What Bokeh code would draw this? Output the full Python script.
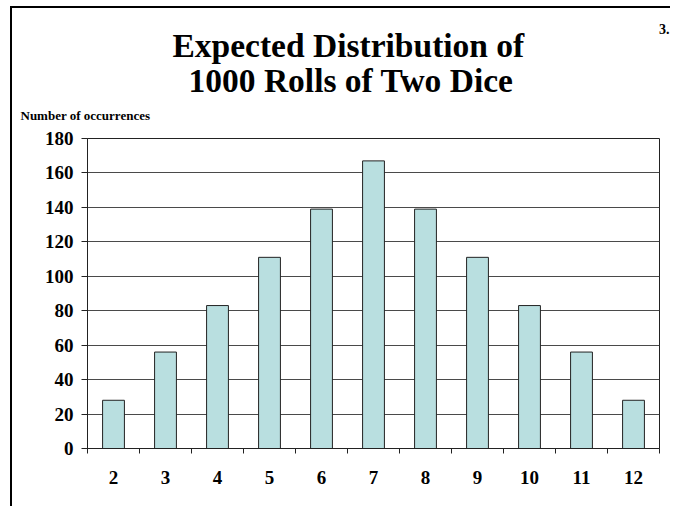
from bokeh.plotting import figure
from bokeh.models import Range1d, FixedTicker, Title, ColumnDataSource
from bokeh.embed import file_html
from bokeh.resources import INLINE

# Data
sums = [2, 3, 4, 5, 6, 7, 8, 9, 10, 11, 12]
occurrences = [28, 56, 83, 111, 139, 167, 139, 111, 83, 56, 28]
y_ticks = [0, 20, 40, 60, 80, 100, 120, 140, 160, 180]
title_lines = ["Expected Distribution of", "1000 Rolls of Two Dice"]
y_axis_title = "Number of occurrences"
slide_number = "3."

FONT = "Liberation Serif"

p = figure(width=660, height=500, output_backend="svg", toolbar_location=None,
           x_range=Range1d(sums[0] - 0.5, sums[-1] + 0.5),
           y_range=Range1d(0, 180),
           min_border_left=75, min_border_right=13,
           min_border_top=130, min_border_bottom=60)

p.styles = {"margin-left": "10px", "margin-top": "6px",
            "border-left": "2px solid black", "border-top": "2px solid black"}

src = ColumnDataSource(dict(x=sums, top=occurrences))
p.vbar(x="x", top="top", width=0.42, bottom=0, source=src,
       fill_color="#B9DFE0", line_color="#222222", line_width=1)

# Axes
p.outline_line_color = "#222222"
p.outline_line_width = 1

p.yaxis.ticker = FixedTicker(ticks=y_ticks)
p.yaxis.major_label_text_font = FONT
p.yaxis.major_label_text_font_style = "bold"
p.yaxis.major_label_text_font_size = "19px"
p.yaxis.major_label_text_color = "black"
p.yaxis.major_tick_out = 6
p.yaxis.major_tick_in = 0
p.yaxis.minor_tick_out = 0
p.yaxis.minor_tick_in = 0
p.yaxis.major_label_standoff = 8
p.yaxis.axis_line_color = "#222222"
p.yaxis.major_tick_line_color = "#222222"

boundaries = [s - 0.5 for s in sums] + [sums[-1] + 0.5]
p.xaxis.ticker = FixedTicker(ticks=sums, minor_ticks=boundaries)
p.xaxis.major_label_text_font = FONT
p.xaxis.major_label_text_font_style = "bold"
p.xaxis.major_label_text_font_size = "19px"
p.xaxis.major_label_text_color = "black"
p.xaxis.major_tick_out = 0
p.xaxis.major_tick_in = 0
p.xaxis.minor_tick_out = 5
p.xaxis.minor_tick_in = 0
p.xaxis.major_label_standoff = 17
p.xaxis.axis_line_color = "#222222"
p.xaxis.minor_tick_line_color = "#222222"

p.xgrid.grid_line_color = None
p.ygrid.grid_line_color = "#4a4a4a"
p.ygrid.grid_line_width = 1

# Titles stacked above the frame (first added is closest to the frame)
p.add_layout(Title(text=y_axis_title, align="left", offset=-67, standoff=31,
                   text_font=FONT, text_font_style="bold", text_font_size="13px",
                   text_color="black"), "above")
p.add_layout(Title(text=title_lines[1], align="left", offset=101, standoff=-16,
                   text_font=FONT, text_font_style="bold", text_font_size="33.5px",
                   text_color="black"), "above")
p.add_layout(Title(text=title_lines[0], align="left", offset=85, standoff=8,
                   text_font=FONT, text_font_style="bold", text_font_size="33.5px",
                   text_color="black"), "above")
p.add_layout(Title(text=slide_number, align="right", offset=-10, standoff=-26,
                   text_font=FONT, text_font_style="bold", text_font_size="14px",
                   text_color="black"), "above")

open("out.html", "w").write(file_html(p, INLINE))
